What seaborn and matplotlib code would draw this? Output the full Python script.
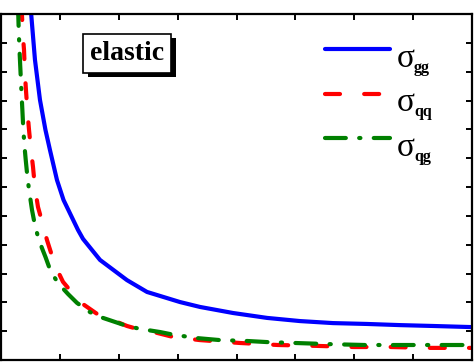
import matplotlib
matplotlib.use("Agg")
import matplotlib.pyplot as plt
import matplotlib.patheffects as pe
import seaborn as sns

# ---- data ----
gg_x = [0.50, 0.577, 0.662, 0.755, 0.832, 0.951, 1.062, 1.308, 1.393, 1.682, 2.140, 2.480,
        3.040, 3.380, 3.941, 4.518, 5.079, 5.639, 6.217, 6.777, 7.338, 8.017]
gg_y = [12.31, 10.41, 9.02, 7.98, 7.28, 6.24, 5.55, 4.51, 4.20, 3.47, 2.77, 2.36,
        2.01, 1.84, 1.63, 1.46, 1.35, 1.28, 1.25, 1.21, 1.18, 1.14]

qq_x = [0.340, 0.357, 0.374, 0.391, 0.408, 0.425, 0.450, 0.476, 0.510, 0.544, 0.577, 0.628,
        0.713, 0.781, 0.917, 1.053, 1.342, 1.631, 2.140, 2.310, 2.650, 2.921, 3.380, 4.059,
        4.705, 5.350, 5.996, 6.624, 7.270, 8.017]
qq_y = [12.31, 11.93, 11.20, 10.75, 9.88, 9.33, 8.60, 7.98, 7.28, 6.69, 5.97, 5.31,
        4.68, 4.16, 3.29, 2.71, 2.01, 1.60, 1.18, 1.08, 0.94, 0.80, 0.69, 0.59,
        0.52, 0.49, 0.45, 0.45, 0.42, 0.42]

qg_x = [0.280, 0.294, 0.302, 0.314, 0.326, 0.338, 0.350, 0.363, 0.377, 0.397, 0.420, 0.445,
        0.476, 0.527, 0.569, 0.628, 0.696, 0.756, 0.841, 0.968, 1.138, 1.291, 1.512, 1.732,
        2.140, 2.361, 2.701, 2.921, 3.329, 3.720, 4.178, 4.535, 4.994, 5.588, 6.183, 6.998,
        7.847, 8.017]
qg_y = [12.31, 11.93, 11.38, 10.75, 10.23, 9.71, 9.19, 8.67, 8.08, 7.46, 6.94, 6.42,
        5.90, 5.20, 4.75, 4.27, 3.88, 3.57, 3.09, 2.67, 2.29, 1.98, 1.66, 1.46,
        1.18, 1.08, 0.97, 0.88, 0.76, 0.69, 0.66, 0.62, 0.59, 0.55, 0.52, 0.52,
        0.52, 0.49]

x_ticks = [0, 1, 2, 3, 4, 5, 6, 7, 8]
y_ticks = [0, 1, 2, 3, 4, 5, 6, 7, 8, 9, 10, 11, 12]
subscripts = ["gg", "qq", "qg"]
box_label = "elastic"

# ---- style ----
sns.set_theme(style="ticks")
plt.rcParams["font.family"] = ["Liberation Serif", "DejaVu Serif"]

fig = plt.figure(figsize=(4.74, 3.62), dpi=100)
ax = fig.add_axes([1 / 474, 2 / 362, 471 / 474, 346 / 362])

lw = 3.0
sns.lineplot(x=gg_x, y=gg_y, ax=ax, color="#0000ff", lw=lw, sort=False,
             estimator=None, solid_capstyle="round", solid_joinstyle="round")
sns.lineplot(x=qq_x, y=qq_y, ax=ax, color="#ff0000", lw=lw, sort=False,
             estimator=None, linestyle=(0, (3.6, 5.8)), dash_capstyle="round")
sns.lineplot(x=qg_x, y=qg_y, ax=ax, color="#008000", lw=lw, sort=False,
             estimator=None, linestyle=(0, (5.0, 3.2, 0.3, 3.2)), dash_capstyle="round")

ax.set_xlim(0, 8)
ax.set_ylim(0, 12)
ax.set_xticks(x_ticks)
ax.set_yticks(y_ticks)
ax.tick_params(which="major", direction="in", length=4.5, width=1.4, color="black",
               top=True, right=True, labelbottom=False, labelleft=False)
for s in ax.spines.values():
    s.set_linewidth(1.6)
    s.set_color("black")
ax.set_xlabel("")
ax.set_ylabel("")

# legend (handles only; sigma labels drawn as text)
handles = ax.get_lines()[:3]
leg = ax.legend(handles=handles, labels=[" "] * 3, loc="upper left",
                bbox_to_anchor=(0.688, 0.913), frameon=False, fontsize=10,
                handlelength=4.65, borderpad=0, borderaxespad=0, handletextpad=0,
                labelspacing=2.27)

sig_base = [0.847, 0.720, 0.590]
sub_base = [0.833, 0.706, 0.576]
for sb, ub, sub in zip(sig_base, sub_base, subscripts):
    ax.text(0.841, sb, "σ", transform=ax.transAxes, fontsize=24,
            va="baseline", ha="left", color="black")
    ax.text(0.877, ub, sub, transform=ax.transAxes, fontsize=11.5,
            fontweight="bold", va="baseline", ha="left", color="black")

# "elastic" box with drop shadow
t = ax.text(0.2675, 0.886, box_label, transform=ax.transAxes, fontsize=20,
            fontweight="bold", ha="center", va="center", color="black", zorder=6,
            bbox=dict(boxstyle="square,pad=0.25", facecolor="white", edgecolor="black", lw=1.2))
t.get_bbox_patch().set_path_effects([
    pe.SimplePatchShadow(offset=(3.6, -2.9), shadow_rgbFace="black", alpha=1.0),
    pe.Normal(),
])

fig.savefig("out.png", dpi=100)
